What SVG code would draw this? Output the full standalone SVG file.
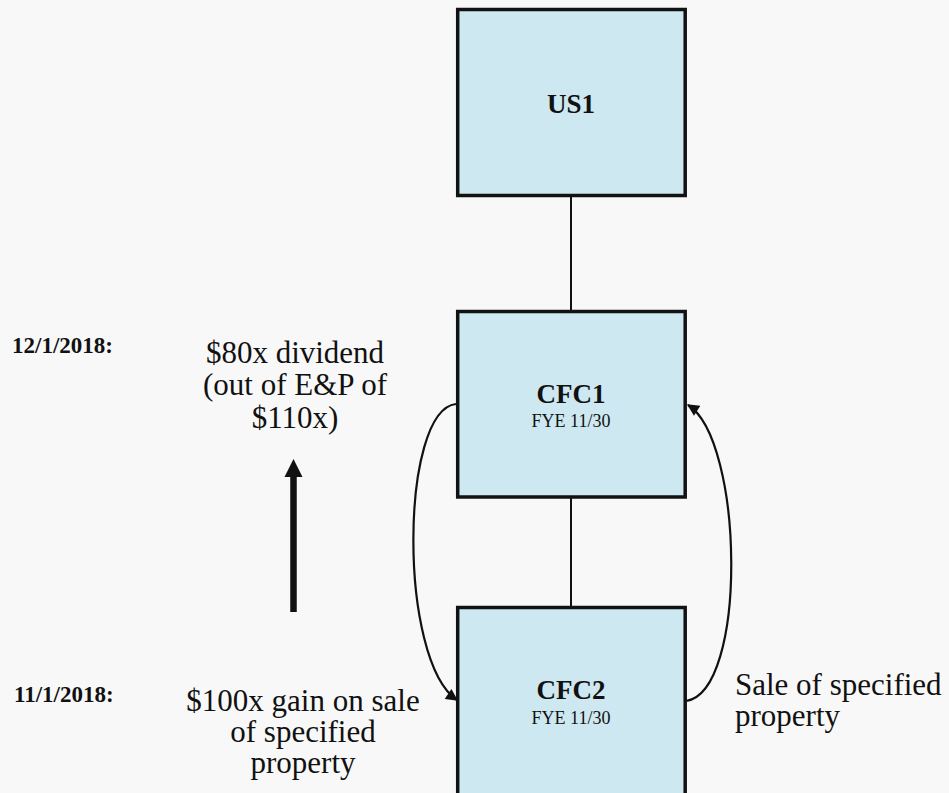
<svg xmlns="http://www.w3.org/2000/svg" width="949" height="793" viewBox="0 0 949 793">
  <style>
    .box { fill: #cde8f0; stroke: #121212; stroke-width: 3.5; }
    .title { font-family: "Liberation Serif", "Times New Roman", serif; font-weight: bold; font-size: 27px; fill: #111; text-anchor: middle; }
    .sub { font-family: "Liberation Serif", "Times New Roman", serif; font-size: 18px; fill: #111; text-anchor: middle; }
    .date { font-family: "Liberation Serif", "Times New Roman", serif; font-weight: bold; font-size: 23px; fill: #111; }
    .note { font-family: "Liberation Serif", "Times New Roman", serif; font-size: 31px; fill: #111; }
    .link { stroke: #111; stroke-width: 2; fill: none; }
    .flow { stroke: #111; stroke-width: 2.2; fill: none; marker-end: url(#head); }
  </style>
  <defs>
    <marker id="head" viewBox="0 0 10 10" refX="9" refY="5" markerUnits="userSpaceOnUse" markerWidth="15" markerHeight="12" orient="auto">
      <path d="M0,0 L10,5 L0,10 Z" fill="#111"/>
    </marker>
  </defs>
  <rect x="0" y="0" width="949" height="793" fill="#f8f8f8"/>

  <!-- ownership lines and transaction flows -->
  <g id="connectors">
    <line class="link" x1="571" y1="196" x2="571" y2="311"/>
    <line class="link" x1="571" y1="497" x2="571" y2="607"/>
    <path class="flow" d="M456,404 C400,410 398,660 457,700"/>
    <path class="flow" d="M686,701 C748,692 744,440 688,405"/>
    <!-- dividend arrow -->
    <line x1="293.5" y1="612" x2="293.5" y2="475" stroke="#111" stroke-width="6.5"/>
    <path d="M293.5,459 L302.5,477 L284.5,477 Z" fill="#111"/>
  </g>

  <g id="us1">
    <rect class="box" x="457.7" y="9.5" width="227.5" height="186"/>
    <text class="title" x="571" y="113">US1</text>
  </g>

  <g id="cfc1">
    <rect class="box" x="457.7" y="311.5" width="227.5" height="185.5"/>
    <text class="title" x="571" y="403">CFC1</text>
    <text class="sub" x="571" y="427">FYE 11/30</text>
  </g>

  <g id="cfc2">
    <rect class="box" x="457.7" y="607.5" width="227.5" height="200"/>
    <text class="title" x="571" y="699">CFC2</text>
    <text class="sub" x="571" y="724">FYE 11/30</text>
  </g>

  <g id="labels">
    <text class="date" x="12" y="353">12/1/2018:</text>
    <text class="note" text-anchor="middle" x="295" y="363">$80x dividend</text>
    <text class="note" text-anchor="middle" x="295" y="395">(out of E&amp;P of</text>
    <text class="note" text-anchor="middle" x="295" y="428">$110x)</text>

    <text class="date" x="14" y="702">11/1/2018:</text>
    <text class="note" text-anchor="middle" x="303" y="711">$100x gain on sale</text>
    <text class="note" text-anchor="middle" x="303" y="742">of specified</text>
    <text class="note" text-anchor="middle" x="303" y="773">property</text>

    <text class="note" x="735" y="695">Sale of specified</text>
    <text class="note" x="735" y="726">property</text>
  </g>
</svg>
